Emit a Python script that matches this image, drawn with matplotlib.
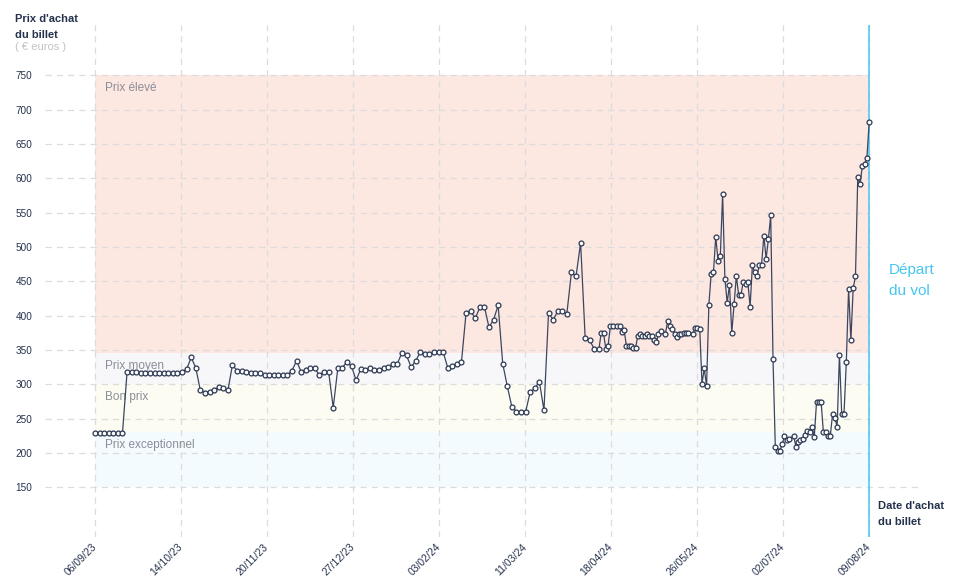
"""
Prix d'achat du billet en fonction de la date d'achat, jusqu'au depart du vol.
"""

import matplotlib
matplotlib.use("Agg")
import matplotlib.pyplot as plt
import numpy as np

plt.rcParams["font.family"] = ["Liberation Sans", "DejaVu Sans"]

# Jours depuis le 06/09/23 (releve tous les 2 jours, puis quotidien)
days = [0, 2, 4, 6, 8, 10, 12, 14, 16, 18, 20, 22, 24, 26, 28, 30,
        32, 34, 36, 38, 40, 42, 44, 46, 48, 50, 52, 54, 56, 58, 60,
        62, 64, 66, 68, 70, 72, 74, 76, 78, 80, 82, 84, 86, 88, 90,
        92, 94, 96, 98, 100, 102, 104, 106, 108, 110, 112, 114, 116, 118, 120,
        122, 124, 126, 128, 130, 132, 134, 136, 138, 140, 142, 144, 146, 148, 150,
        152, 154, 156, 158, 160, 162, 164, 166, 168, 170, 172, 174, 176, 178, 180,
        182, 184, 186, 188, 190, 192, 194, 196, 198, 200, 202, 204, 206, 208, 210,
        212, 214, 216, 218, 220,
        221, 222, 223, 224, 225, 226, 228, 229, 230, 231, 232, 233, 234, 235, 236,
        237, 238, 239, 240, 241, 242, 243, 244, 245, 246, 247, 249, 250, 251, 252,
        253, 254, 255, 256, 257, 258, 259, 261, 262, 263, 264, 265, 266, 267, 268,
        269, 270, 271, 272, 273, 274, 275, 276, 277, 278, 279, 280, 281, 282, 283,
        284, 285, 286, 287, 288, 289, 290, 291, 292, 293, 294, 295, 296, 297, 298,
        299, 300, 301, 302, 303, 305, 306, 307, 308, 309, 310, 311, 312, 313, 314,
        315, 316, 317, 318, 319, 320, 321, 322, 323, 324, 325, 326, 327, 328, 329,
        330, 331, 332, 333, 334, 335, 336, 337, 338]

prices = [229, 229, 229, 229, 229, 229, 229, 318, 318, 318, 317, 317, 316, 316, 316, 317,
          317, 317, 317, 318, 322, 339, 324, 291, 288, 289, 291, 296, 294, 291, 328,
          320, 319, 318, 317, 317, 317, 313, 313, 313, 313, 313, 313, 320, 334, 318,
          321, 323, 323, 313, 318, 318, 266, 323, 324, 333, 326, 306, 322, 321, 323,
          321, 321, 323, 325, 329, 330, 346, 342, 325, 334, 347, 344, 344, 347, 347,
          347, 324, 326, 329, 333, 404, 407, 396, 412, 413, 383, 394, 415, 330, 297,
          267, 260, 259, 260, 289, 294, 304, 262, 404, 394, 406, 406, 403, 463, 457,
          506, 367, 364, 351, 351,
          375, 374, 352, 356, 385, 385, 385, 385, 376, 379, 356, 356, 356, 353, 353,
          371, 373, 371, 371, 373, 371, 371, 364, 361, 373, 377, 373, 392, 385, 380,
          373, 369, 373, 373, 374, 374, 374, 373, 382, 382, 381, 301, 323, 297, 416,
          461, 463, 515, 480, 487, 577, 453, 419, 445, 375, 417, 458, 430, 430, 449,
          446, 449, 413, 473, 463, 458, 473, 474, 516, 483, 512, 546, 337, 209, 203,
          203, 213, 224, 219, 220, 225, 209, 216, 219, 220, 226, 232, 231, 238, 223,
          274, 274, 274, 230, 230, 224, 224, 257, 251, 238, 343, 256, 257, 332, 439,
          364, 440, 457, 602, 591, 618, 621, 630, 682]

x_ticks = [0, 37.56, 75.11, 112.67, 150.22, 187.78, 225.33, 262.89, 300.44, 338]
x_labels = ["06/09/23", "14/10/23", "20/11/23", "27/12/23", "03/02/24",
            "11/03/24", "18/04/24", "26/05/24", "02/07/24", "09/08/24"]
y_ticks = [150, 200, 250, 300, 350, 400, 450, 500, 550, 600, 650, 700, 750]

# Zones de prix : (bas, haut, libelle, couleur)
zones = [(345, 750, "Prix élevé", "#fde7e1"),
         (300, 345, "Prix moyen", "#f7f7f9"),
         (230, 300, "Bon prix", "#fcfcf3"),
         (150, 230, "Prix exceptionnel", "#f3fbfe")]

NAVY = "#25324d"
GRID = "#dcdcdc"
CYAN = "#45c6ee"


def main():
    fig = plt.figure(figsize=(9.58, 5.85), dpi=100)
    W, H = 958, 585
    ax = fig.add_axes([45 / W, (H - 537) / H, 873 / W, 512 / H])
    ax.set_xlim(-21.83, 359.3)
    ax.set_ylim(77.6, 823.2)
    for s in ax.spines.values():
        s.set_visible(False)

    # Zones colorees
    end = x_ticks[-1]
    for lo, hi, label, col in zones:
        ax.fill_between([0, end], lo, hi, color=col, lw=0, zorder=0)
        ax.text(4.5, hi - 9.5, label, fontsize=8.5, color="#8a8e99",
                va="top", ha="left", zorder=3)

    # Grille
    ax.vlines(x_ticks, 77.6, 823.2, colors=GRID, linestyles=(0, (5, 4)),
              lw=0.9, zorder=1)
    ax.hlines(y_ticks[1:], -21.83, end, colors=GRID, linestyles=(0, (5, 4)),
              lw=0.9, zorder=1)
    ax.hlines(y_ticks[0], -21.83, 359.3, colors=GRID, linestyles=(0, (5, 4)),
              lw=0.9, zorder=1)

    # Depart du vol
    ax.axvline(end, color=CYAN, lw=1.1, zorder=2)

    # Serie des prix
    ax.plot(days, prices, color="#3b4660", lw=0.9, marker="o", ms=3.5,
            mfc="white", mec="#2c3852", mew=0.9, zorder=4)

    ax.set_yticks(y_ticks)
    ax.set_yticklabels([str(v) for v in y_ticks])
    ax.set_xticks(x_ticks)
    ax.set_xticklabels(x_labels, rotation=45, ha="right", va="center",
                       rotation_mode="anchor")
    ax.tick_params(axis="y", length=0, pad=9, labelsize=7.2, labelcolor=NAVY)
    ax.tick_params(axis="x", length=0, pad=6, labelsize=7.5, labelcolor=NAVY)

    # Titres des axes
    fig.text(15 / W, 1 - 14 / H, "Prix d'achat\ndu billet", fontsize=8,
             fontweight="bold", color=NAVY, va="top", ha="left",
             linespacing=1.75)
    fig.text(15 / W, 1 - 42 / H, "( € euros )", fontsize=8, color="#c2c2c2",
             va="top", ha="left")
    fig.text(878 / W, 1 - 501 / H, "Date d'achat\ndu billet", fontsize=8,
             fontweight="bold", color=NAVY, va="top", ha="left",
             linespacing=1.75)
    fig.text(889 / W, 1 - 263 / H, "Départ\ndu vol", fontsize=11,
             color=CYAN, va="top", ha="left", linespacing=1.6)

    fig.savefig("out.png", dpi=100)
    return fig


if __name__ == "__main__":
    main()
